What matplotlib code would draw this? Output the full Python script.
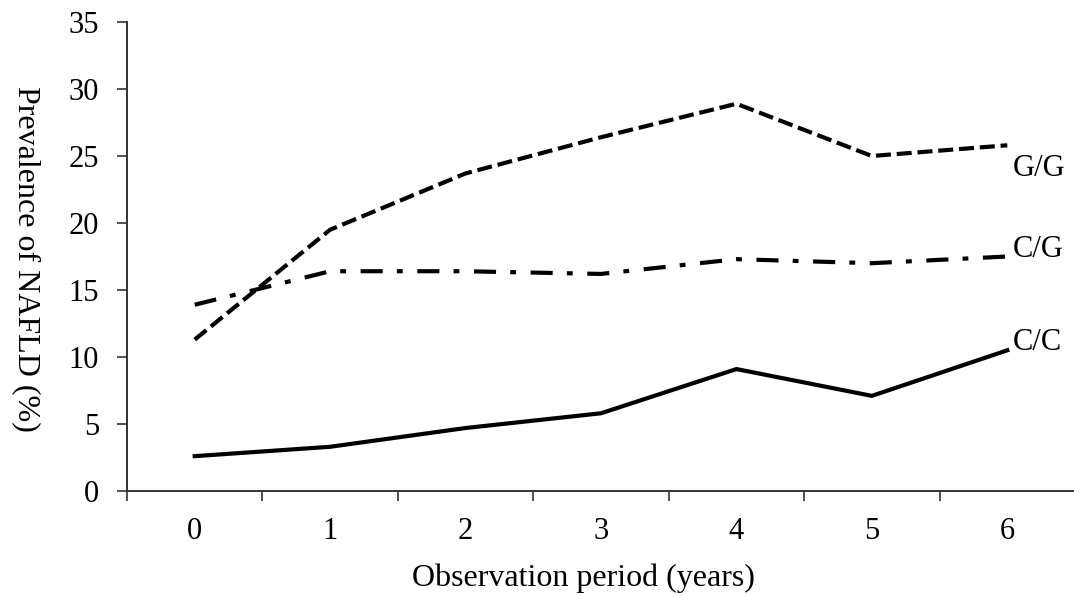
import matplotlib
matplotlib.use("Agg")
import matplotlib.pyplot as plt

years = [0, 1, 2, 3, 4, 5, 6]
year_labels = ["0", "1", "2", "3", "4", "5", "6"]
gg = [11.3, 19.5, 23.7, 26.4, 28.9, 25.0, 25.8]
cg = [13.9, 16.4, 16.4, 16.2, 17.3, 17.0, 17.5]
cc = [2.6, 3.3, 4.7, 5.8, 9.1, 7.1, 10.5]
series_labels = ["G/G", "C/G", "C/C"]

plt.rcParams['font.family'] = ['Liberation Serif', 'DejaVu Serif']

fig = plt.figure(figsize=(10.74, 5.96), dpi=100)
W, H = 1074, 596
left, right, top, bottom = 127, 1075, 22, 491
ax = fig.add_axes([left / W, 1 - bottom / H, (right - left) / W, (bottom - top) / H])

lw = 3.0
ax.plot(years, gg, color="black", lw=lw, dashes=(3.6, 1.4), dash_capstyle="butt")
ax.plot(years, cg, color="black", lw=lw, dashes=(5.3, 3.4, 1.4, 3.5), dash_capstyle="butt")
ax.plot(years, cc, color="black", lw=lw, solid_joinstyle="miter")

ax.set_xlim(-0.5, 6.5)
ax.set_ylim(0, 35)
ax.set_yticks(range(0, 36, 5))
ax.set_xticks(years)
ax.set_xticklabels(year_labels)
ax.set_xticks([y - 0.5 for y in years] + [6.5], minor=True)
ax.tick_params(axis="x", which="major", length=0, pad=19, labelsize=22)
ax.tick_params(axis="x", which="minor", length=7, width=1.2, direction="out", color="#333333")
ax.tick_params(axis="y", which="major", length=7, width=1.2, direction="out", color="#333333",
               labelsize=22, pad=13)

for s in ["top", "right"]:
    ax.spines[s].set_visible(False)
for s in ["left", "bottom"]:
    ax.spines[s].set_linewidth(1.4)
    ax.spines[s].set_color("#333333")

ax.text(6.04, 24.1, series_labels[0], fontsize=22, va="center", ha="left")
ax.text(6.04, 18.0, series_labels[1], fontsize=22, va="center", ha="left")
ax.text(6.04, 11.1, series_labels[2], fontsize=22, va="center", ha="left")

fig.text(583 / W, 1 - 578 / H, "Observation period (years)", fontsize=23, ha="center", va="center")
fig.text(26 / W, 1 - 259 / H, "Prevalence of NAFLD (%)", fontsize=23, ha="center", va="center",
         rotation=-90)

fig.savefig("out.png", dpi=100)
